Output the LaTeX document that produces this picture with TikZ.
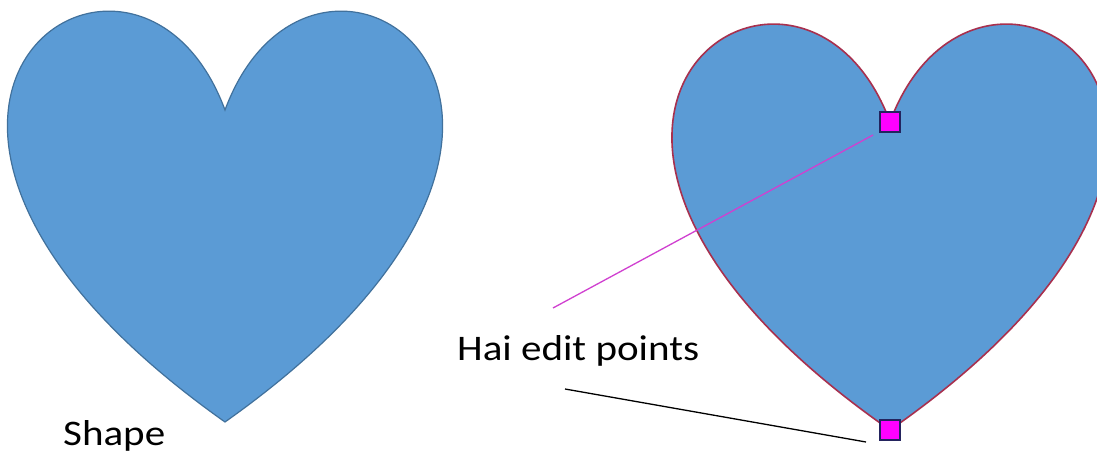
\documentclass[tikz,border=0pt]{standalone}
\usepackage{fontspec}
\newfontfamily\lblfont[FakeStretch=1.14]{Carlito}
\definecolor{heartfill}{HTML}{5B9BD5}
\definecolor{heartline}{HTML}{41719C}
\definecolor{editline}{HTML}{A8304E}
\definecolor{ptfill}{HTML}{FF00FF}
\definecolor{ptline}{HTML}{24245E}
\definecolor{pinkline}{HTML}{D040D0}
\tikzset{
  heartshape/.style={fill=heartfill, draw=heartline, line width=1.2pt},
  editheart/.style={fill=heartfill, draw=editline, line width=1.6pt},
  editpt/.style={rectangle, fill=ptfill, draw=ptline, line width=1.2pt, minimum width=20pt, minimum height=20pt, inner sep=0pt},
  lbl/.style={anchor=base west, inner sep=0pt, font=\lblfont\fontsize{36}{40}\selectfont, text=black},
  pointer/.style={line width=1.3pt},
}
\begin{document}
\begin{tikzpicture}[x=1pt, y=-1pt]
\useasboundingbox (0,0) rectangle (1097,457);
\fill[white] (0,0) rectangle (1097,457);
\begin{scope}
\clip (0,0) rectangle (1097,457);
% left heart (hc=225, top=6, h=416, w=432)
\path[heartshape] (225,110) .. controls (315,-132.7) and (666,110) .. (225,422)
  .. controls (-216,110) and (135,-132.7) .. (225,110) -- cycle;
% right heart (hc=890, top=19, h=411, w=433)
\path[editheart] (890,121.75) .. controls (980.2,-118) and (1332,121.75) .. (890,430)
  .. controls (448,121.75) and (799.8,-118) .. (890,121.75) -- cycle;
\end{scope}
% edit points
\node[editpt] (ptA) at (890,122) {};
\node[editpt] (ptB) at (890,430) {};
% labels
\node[lbl] (shape) at (63,445) {Shape};
\node[lbl] (hai) at (457,360) {Hai edit points};
% pointer lines
\coordinate (m1) at (553,308);
\coordinate (m2) at (873,135);
\coordinate (k1) at (565,389);
\coordinate (k2) at (866,442);
\draw[pointer, draw=pinkline] (m1) -- (m2);
\draw[pointer, draw=black] (k1) -- (k2);
\end{tikzpicture}
\end{document}
